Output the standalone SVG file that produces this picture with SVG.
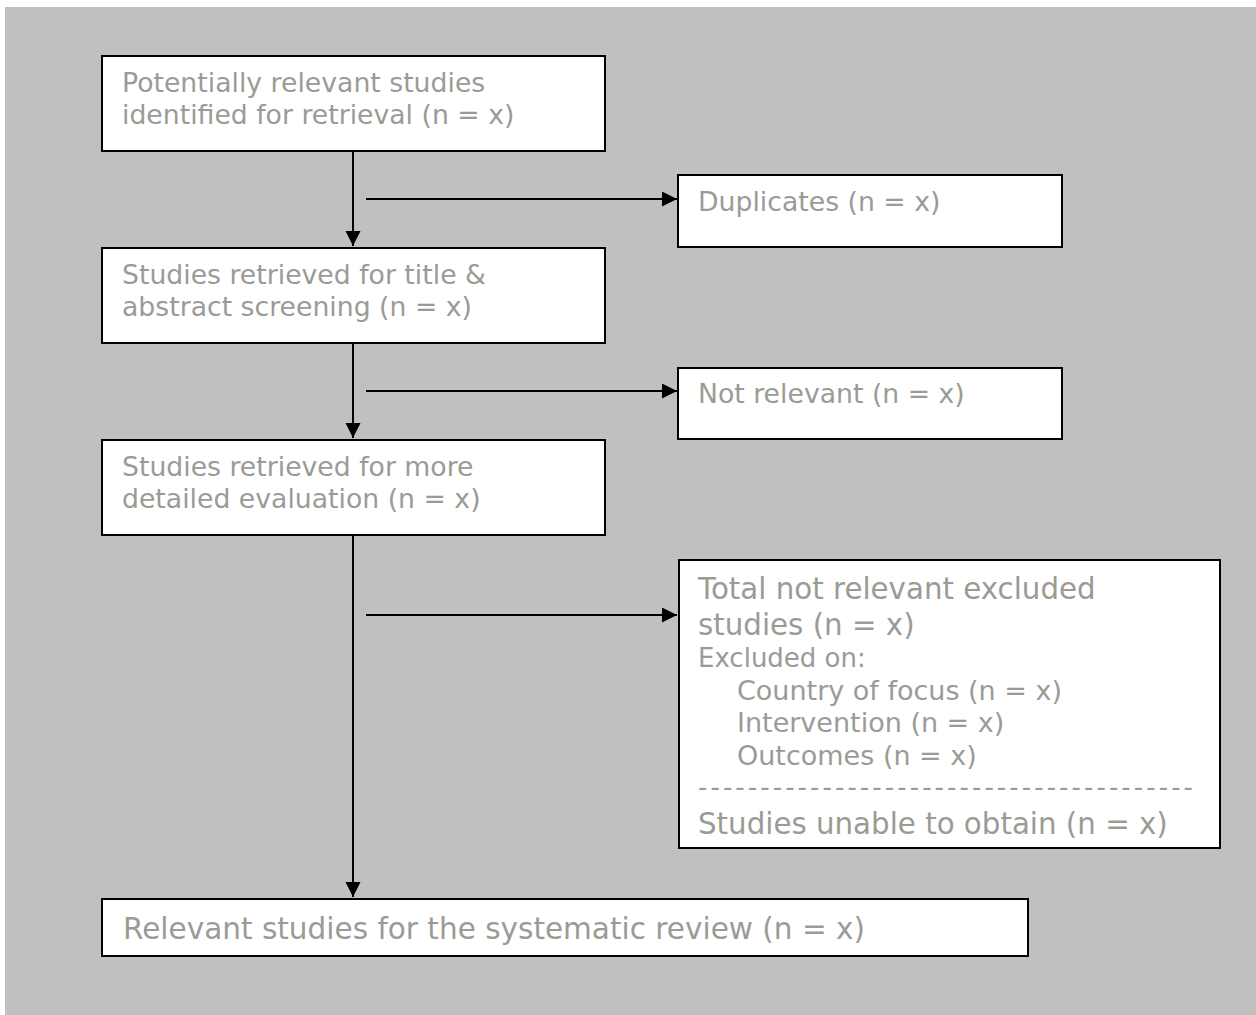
<svg xmlns="http://www.w3.org/2000/svg" width="1256" height="1015" viewBox="0 0 1256 1015">
<style>
.box{fill:#ffffff;stroke:#000000;stroke-width:2}
.t{font-family:"DejaVu Sans","Verdana",sans-serif;fill:#9b9b95;font-size:26.7px}
.sm{font-size:26px}
.mid{font-size:27px}
.big{font-size:29.3px}
.conn{stroke:#000000;stroke-width:2;fill:none}
</style>
<defs>
<marker id="ah" markerUnits="userSpaceOnUse" markerWidth="16" markerHeight="16" refX="15" refY="7.5" orient="auto">
<path d="M0,0 L15,7.5 L0,15 z" fill="#000000"/>
</marker>
</defs>
<rect x="0" y="0" width="1256" height="1015" fill="#ffffff"/>
<rect x="5" y="7" width="1251" height="1008" fill="#c0c0c0"/>
<g id="connectors">
<line class="conn" x1="353" y1="152" x2="353" y2="246" marker-end="url(#ah)"/>
<line class="conn" x1="353" y1="344" x2="353" y2="438" marker-end="url(#ah)"/>
<line class="conn" x1="353" y1="536" x2="353" y2="897" marker-end="url(#ah)"/>
<line class="conn" x1="366" y1="199" x2="677" y2="199" marker-end="url(#ah)"/>
<line class="conn" x1="366" y1="391" x2="677" y2="391" marker-end="url(#ah)"/>
<line class="conn" x1="366" y1="615" x2="677" y2="615" marker-end="url(#ah)"/>
</g>
<g id="n1">
<rect class="box" x="102" y="56" width="503" height="95"/>
<text class="t" x="122" y="92">Potentially relevant studies</text>
<text class="t" x="122" y="124">identified for retrieval (n = x)</text>
</g>
<g id="n2">
<rect class="box" x="102" y="248" width="503" height="95"/>
<text class="t" x="122" y="284">Studies retrieved for title &amp;</text>
<text class="t" x="122" y="316">abstract screening (n = x)</text>
</g>
<g id="n3">
<rect class="box" x="102" y="440" width="503" height="95"/>
<text class="t" x="122" y="476">Studies retrieved for more</text>
<text class="t" x="122" y="508">detailed evaluation (n = x)</text>
</g>
<g id="dup">
<rect class="box" x="678" y="175" width="384" height="72"/>
<text class="t" x="698" y="211">Duplicates (n = x)</text>
</g>
<g id="notrel">
<rect class="box" x="678" y="368" width="384" height="71"/>
<text class="t" x="698" y="403">Not relevant (n = x)</text>
</g>
<g id="excl">
<rect class="box" x="679" y="560" width="541" height="288"/>
<text class="t big" x="698" y="599">Total not relevant excluded</text>
<text class="t big" x="698" y="635">studies (n = x)</text>
<text class="t sm" x="698" y="667">Excluded on:</text>
<text class="t mid" x="737" y="700">Country of focus (n = x)</text>
<text class="t mid" x="737" y="732">Intervention (n = x)</text>
<text class="t mid" x="737" y="765">Outcomes (n = x)</text>
<text class="t sm" x="698" y="796" textLength="495" lengthAdjust="spacing">----------------------------------------</text>
<text class="t big" x="698" y="834">Studies unable to obtain (n = x)</text>
</g>
<g id="final">
<rect class="box" x="102" y="899" width="926" height="57"/>
<text class="t big" x="123" y="939" textLength="742" lengthAdjust="spacingAndGlyphs">Relevant studies for the systematic review (n = x)</text>
</g>
</svg>
